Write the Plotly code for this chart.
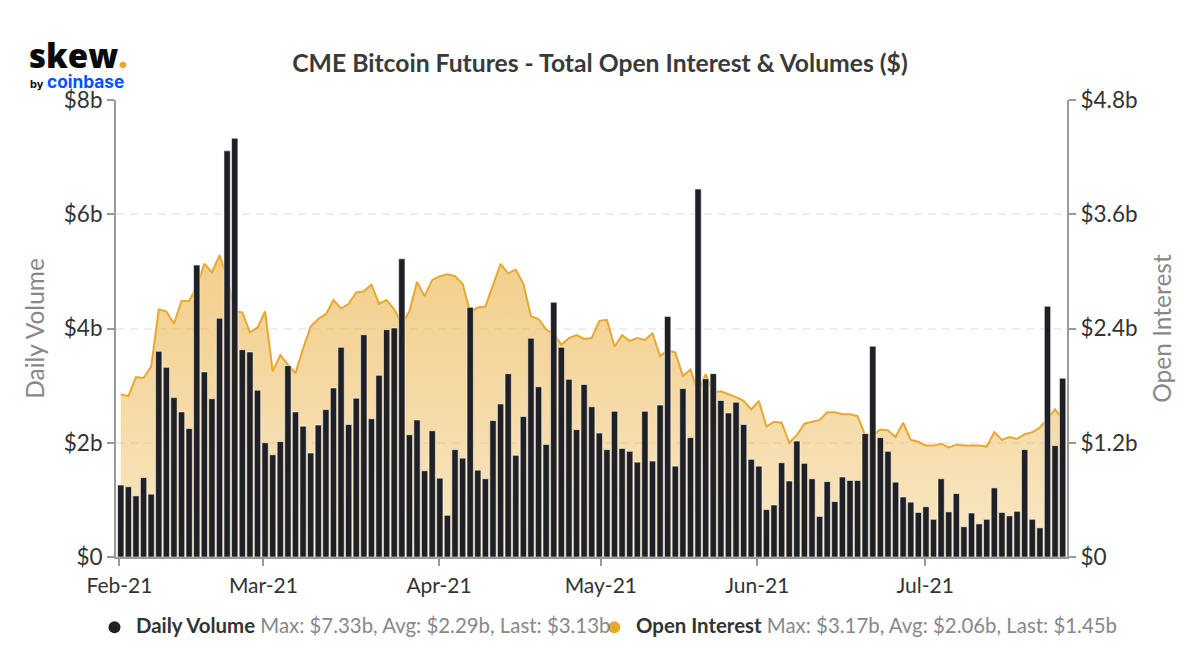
import plotly.graph_objects as go

# values in $b
daily_volume = [
    1.26, 1.23, 1.07, 1.39, 1.10, 3.60, 3.32, 2.79, 2.54, 2.25,
    5.11, 3.24, 2.77, 4.18, 7.11, 7.33, 3.63, 3.59, 2.92, 2.00,
    1.79, 2.02, 3.35, 2.54, 2.29, 1.82, 2.31, 2.58, 2.96, 3.67,
    2.32, 2.78, 3.89, 2.42, 3.18, 3.98, 4.01, 5.22, 2.14, 2.40,
    1.51, 2.21, 1.38, 0.73, 1.88, 1.73, 4.37, 1.52, 1.37, 2.39,
    2.68, 3.21, 1.78, 2.46, 3.83, 2.98, 1.97, 4.46, 3.67, 3.11,
    2.23, 3.02, 2.63, 2.17, 1.88, 2.55, 1.90, 1.85, 1.66, 2.55,
    1.68, 2.66, 4.21, 1.59, 2.95, 2.09, 6.44, 3.12, 3.21, 2.74,
    2.52, 2.71, 2.32, 1.71, 1.59, 0.83, 0.91, 1.65, 1.33, 2.03,
    1.64, 1.37, 0.71, 1.32, 0.97, 1.40, 1.34, 1.34, 2.16, 3.69,
    2.09, 1.85, 1.31, 1.05, 0.96, 0.78, 0.88, 0.66, 1.37, 0.79,
    1.11, 0.53, 0.77, 0.58, 0.66, 1.21, 0.78, 0.72, 0.80, 1.88,
    0.66, 0.51, 4.39, 1.95, 3.13,
]
open_interest = [
    1.71, 1.69, 1.89, 1.88, 2.00, 2.60, 2.58, 2.45, 2.69, 2.69,
    2.84, 3.08, 2.99, 3.17, 2.94, 2.58, 2.57, 2.36, 2.41, 2.58,
    1.95, 2.12, 2.02, 1.93, 2.19, 2.42, 2.50, 2.55, 2.70, 2.61,
    2.66, 2.78, 2.79, 2.86, 2.66, 2.70, 2.60, 2.45, 2.58, 2.89,
    2.74, 2.91, 2.95, 2.97, 2.95, 2.87, 2.57, 2.62, 2.63, 2.85,
    3.08, 2.98, 3.02, 2.87, 2.53, 2.50, 2.39, 2.34, 2.23, 2.30,
    2.33, 2.29, 2.30, 2.48, 2.49, 2.21, 2.33, 2.27, 2.30, 2.28,
    2.35, 2.11, 2.17, 2.15, 1.90, 1.97, 1.72, 1.92, 1.73, 1.74,
    1.71, 1.68, 1.64, 1.55, 1.64, 1.37, 1.42, 1.41, 1.20, 1.28,
    1.40, 1.42, 1.44, 1.52, 1.52, 1.50, 1.50, 1.48, 1.28, 1.28,
    1.34, 1.33, 1.26, 1.41, 1.23, 1.21, 1.17, 1.17, 1.19, 1.15,
    1.18, 1.17, 1.17, 1.17, 1.16, 1.31, 1.23, 1.26, 1.24, 1.29,
    1.31, 1.36, 1.45, 1.55, 1.45,
]
# trading days, so the month ticks are not evenly spaced
days = list(range(len(daily_volume)))
month_labels = ["Feb-21", "Mar-21", "Apr-21", "May-21", "Jun-21", "Jul-21"]
month_ticks = [-0.17, 18.78, 41.9, 63.2, 83.8, 105.9]
volume_ticks = [0, 2, 4, 6, 8]
volume_tick_labels = ["$0", "$2b", "$4b", "$6b", "$8b"]
oi_ticks = [0, 1.2, 2.4, 3.6, 4.8]
oi_tick_labels = ["$0", "$1.2b", "$2.4b", "$3.6b", "$4.8b"]

GOLD = "#e8a82e"
DARK = "#1f2026"
AXIS = "#999999"
W, H = 1200, 670
PLOT_L, PLOT_R, PLOT_T, PLOT_B = 115.5, 1067, 100, 556.7


# annotations and shapes take paper coords, which only cover the plot area
def px_x(x):
    return (x - PLOT_L) / (PLOT_R - PLOT_L)


def px_y(y):
    return (PLOT_B - y) / (PLOT_B - PLOT_T)


fig = go.Figure()

# open interest sits on the base axis so the bars draw over it
fig.add_trace(go.Scatter(
    x=days, y=open_interest, yaxis="y", mode="lines", name="Open Interest",
    line=dict(color=GOLD, width=2), fill="tozeroy",
    fillgradient=dict(type="vertical", colorscale=[
        [0, "rgba(232,168,46,0.28)"], [1, "rgba(232,168,46,0.56)"]]),
    showlegend=False, hoverinfo="skip"))
fig.add_trace(go.Bar(
    x=days, y=daily_volume, yaxis="y2", name="Daily Volume",
    marker=dict(color=DARK, line=dict(color="rgba(255,255,255,0.55)", width=1)),
    showlegend=False, hoverinfo="skip"))

tick_font = dict(family="Lato", size=22.5, color="#333333")
side_font = dict(family="Lato", size=24.5, color="#888888")

fig.update_layout(
    width=W, height=H, paper_bgcolor="white", plot_bgcolor="white",
    margin=dict(l=PLOT_L, r=W - PLOT_R, t=PLOT_T, b=H - PLOT_B, autoexpand=False),
    bargap=0.17, font=dict(family="Lato"),
    title=dict(text="<b>CME Bitcoin Futures - Total Open Interest &amp; Volumes ($)</b>",
               x=600 / W, xanchor="center", y=1 - 63 / H, yanchor="middle",
               font=dict(family="Lato", size=24.7, color="#3a3a3a")),
    xaxis=dict(range=[-0.63, 124.57], tickmode="array", tickvals=month_ticks,
               ticktext=month_labels, ticks="outside", ticklen=7, tickwidth=2,
               tickcolor=AXIS, showline=True, linecolor=AXIS, linewidth=2,
               showgrid=False, zeroline=False, ticklabelstandoff=2,
               tickfont=dict(family="Lato", size=21, color="#333333")),
    yaxis=dict(range=[0, 4.8], side="right", tickmode="array", tickvals=oi_ticks,
               ticktext=oi_tick_labels, ticks="outside", ticklen=7, tickwidth=2,
               tickcolor=AXIS, showline=True, linecolor=AXIS, linewidth=2,
               showgrid=True, gridcolor="#eeeeee", gridwidth=2, griddash="8px,6px",
               zeroline=False, tickfont=tick_font,
               title=dict(text="Open Interest", standoff=17, font=side_font)),
    yaxis2=dict(range=[0, 8], side="left", overlaying="y", tickmode="array",
                tickvals=volume_ticks, ticktext=volume_tick_labels, ticks="outside",
                ticklen=7, tickwidth=2, tickcolor=AXIS, showline=True, linecolor=AXIS,
                linewidth=2, showgrid=False, zeroline=False, tickfont=tick_font,
                title=dict(text="Daily Volume", standoff=12, font=side_font)),
)

# skew logo, as text
fig.add_annotation(x=px_x(26), y=px_y(56), xref="paper", yref="paper", xanchor="left",
                   yanchor="middle", showarrow=False,
                   text="skew<span style='color:#e8a82e'>.</span>",
                   font=dict(family="Open Sans", size=33, weight=800, color="#0a0a0a"))
fig.add_annotation(x=px_x(27), y=px_y(84), xref="paper", yref="paper", xanchor="left",
                   yanchor="middle", showarrow=False, text="<b>by</b>",
                   font=dict(family="Inter", size=11, color="#0a0a0a"))
fig.add_annotation(x=px_x(44), y=px_y(82), xref="paper", yref="paper", xanchor="left",
                   yanchor="middle", showarrow=False, text="<b>coinbase</b>",
                   font=dict(family="Inter", size=17.3, color="#0052ff"))

# legend with its stats line
legend_items = [
    ("Daily Volume", "Max: $7.33b, Avg: $2.29b, Last: $3.13b", DARK, 114, 134),
    ("Open Interest", "Max: $3.17b, Avg: $2.06b, Last: $1.45b", GOLD, 614, 634),
]
for name, stats, color, dot_x, text_x in legend_items:
    fig.add_shape(type="circle", xref="paper", yref="paper",
                  x0=px_x(dot_x - 6), x1=px_x(dot_x + 6),
                  y0=px_y(633), y1=px_y(621),
                  fillcolor=color, line=dict(width=0))
    fig.add_annotation(x=px_x(text_x), y=px_y(625), xref="paper", yref="paper",
                       xanchor="left", yanchor="middle", showarrow=False,
                       text=f"<b>{name}</b> <span style='color:#888888'>{stats}</span>",
                       font=dict(family="Lato", size=20.4, color="#333333"))

fig.write_html("out.html", config=dict(displayModeBar=False),
               post_script="document.body.style.margin='0';")
